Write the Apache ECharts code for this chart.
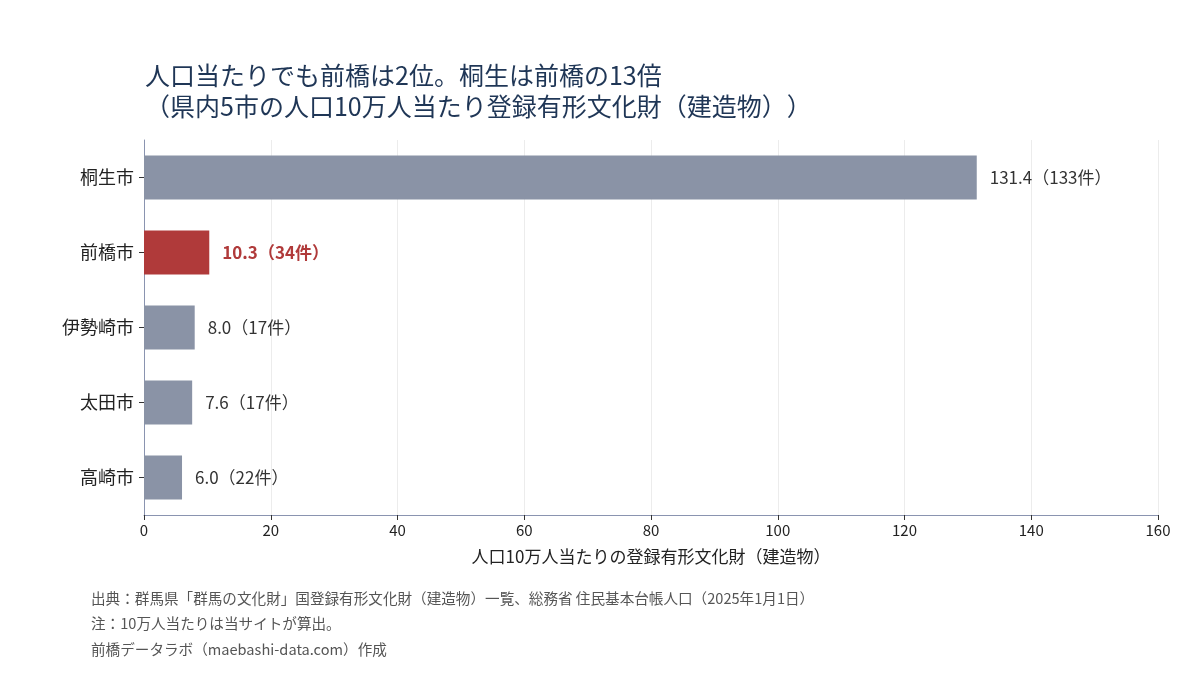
<!DOCTYPE html>
<html>
<head>
<meta charset="utf-8">
<script src="https://cdn.jsdelivr.net/npm/echarts@6/dist/echarts.min.js"></script>
<style>
  html, body { margin: 0; padding: 0; background: #fff; }
  #chart { width: 1200px; height: 675px; }
</style>
</head>
<body>
<div id="chart"></div>
<script>
// 表示順（上から）
const cities = ['桐生市', '前橋市', '伊勢崎市', '太田市', '高崎市']
const perCapita = [131.4, 10.3, 8.0, 7.6, 6.0]
const counts = [133, 34, 17, 17, 22]
const highlight = '前橋市'

const xTicks = [0, 20, 40, 60, 80, 100, 120, 140, 160]

const FONT = '"Noto Sans CJK JP", "Noto Sans", sans-serif'
const GREY = '#8a93a6'
const RED = '#b03a3a'

let chart = echarts.init(document.getElementById('chart'))

// ECharts の category 軸は下から積むので逆順にする
let yData = cities.slice().reverse()
let barData = []
for (let i = cities.length - 1; i >= 0; i--) {
    let isHi = cities[i] === highlight
    barData.push({
        value: perCapita[i],
        count: counts[i],
        itemStyle: { color: isHi ? RED : GREY },
        label: {
            color: isHi ? RED : '#333',
            fontWeight: isHi ? 'bold' : 'normal'
        }
    })
}

let footStyle = { fontSize: 14.6, color: '#555', fontWeight: 'normal', fontFamily: FONT }

let option = {
    backgroundColor: '#fff',
    textStyle: { fontFamily: FONT },
    title: [{
        // 閉じ括弧が詰められないようにゼロ幅スペースを挟む
        text: '人口当たりでも前橋は2位。桐生は前橋の13倍\n（県内5市の人口10万人当たり登録有形文化財（建造物）\u200B）',
        left: 140,
        top: 55,
        textStyle: {
            fontSize: 25,
            fontWeight: 'normal',
            color: '#1f3656',
            lineHeight: 31,
            fontFamily: FONT
        }
    }, {
        text: '出典：群馬県「群馬の文化財」国登録有形文化財（建造物）一覧、総務省 住民基本台帳人口（2025年1月1日）',
        left: 86, top: 586, textStyle: footStyle
    }, {
        text: '注：10万人当たりは当サイトが算出。',
        left: 86, top: 611, textStyle: footStyle
    }, {
        text: '前橋データラボ（maebashi-data.com）作成',
        left: 86, top: 637, textStyle: footStyle
    }],
    grid: {
        left: 144,
        right: 42,
        top: 140,
        bottom: 160,
        containLabel: false
    },
    xAxis: {
        type: 'value',
        min: xTicks[0],
        max: xTicks[xTicks.length - 1],
        interval: 20,
        name: '人口10万人当たりの登録有形文化財（建造物）',
        nameLocation: 'middle',
        nameGap: 33,
        nameTextStyle: { fontSize: 17, color: '#222' },
        axisLine: { show: true, lineStyle: { color: '#8a94b0' } },
        axisTick: { show: true, length: 5, lineStyle: { color: '#333' } },
        axisLabel: { fontSize: 15, color: '#222', margin: 8 },
        splitLine: { show: true, lineStyle: { color: '#ececec' } }
    },
    yAxis: {
        type: 'category',
        data: yData,
        axisLine: { show: true, lineStyle: { color: '#8a94b0' } },
        axisTick: { show: true, alignWithLabel: true, length: 5, lineStyle: { color: '#333' } },
        axisLabel: { fontSize: 18, color: '#222', margin: 10 },
        splitLine: { show: false }
    },
    series: [{
        type: 'bar',
        data: barData,
        barWidth: 44,
        label: {
            show: true,
            position: 'right',
            distance: 13,
            fontSize: 17,
            formatter: p => p.value.toFixed(1) + '（' + p.data.count + '件）'
        }
    }]
}

chart.setOption(option)
</script>
</body>
</html>
